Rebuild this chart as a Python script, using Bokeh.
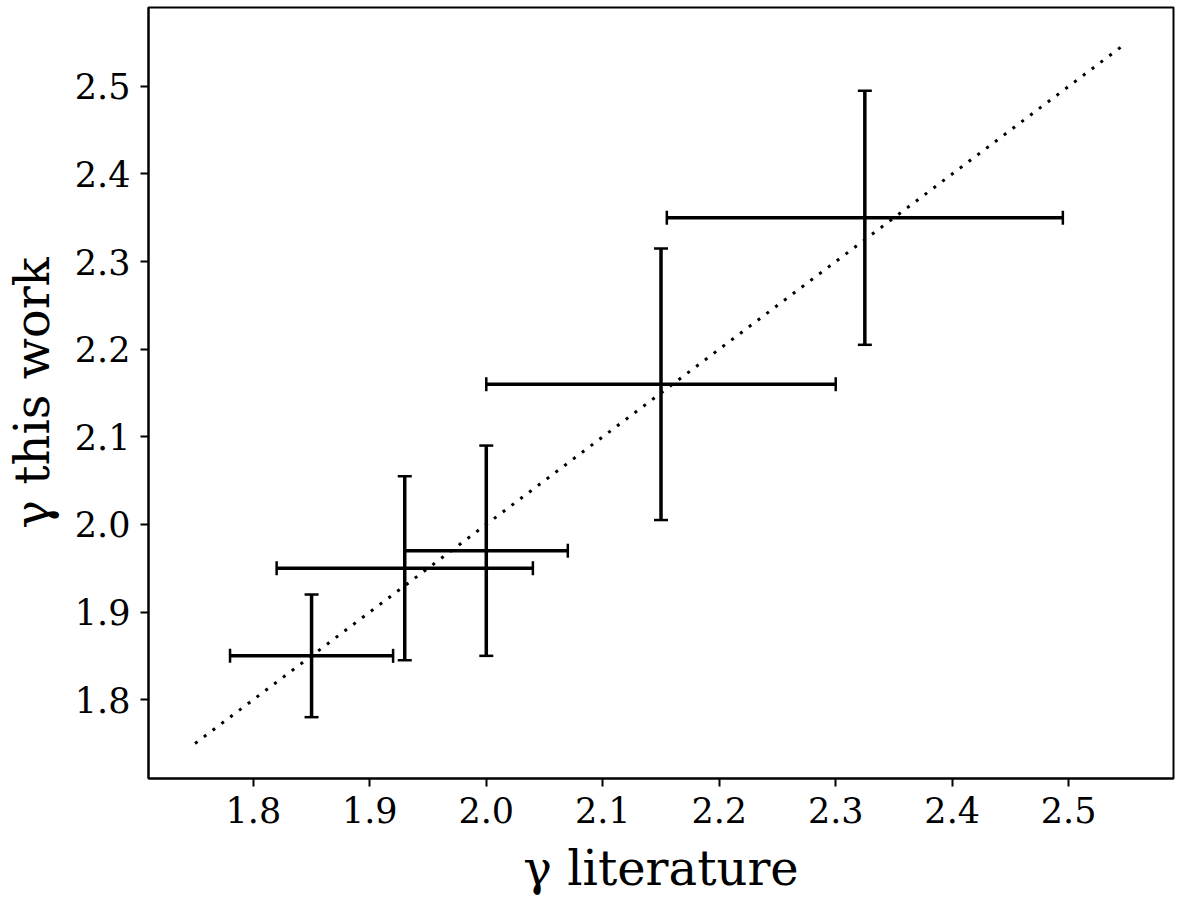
from bokeh.plotting import figure
from bokeh.models import (ColumnDataSource, Whisker, TeeHead, Range1d,
                          FixedTicker, PrintfTickFormatter)
from bokeh.embed import file_html
from bokeh.resources import INLINE

# ---- data ----
gamma_lit = [1.85, 1.93, 2.00, 2.15, 2.325]
gamma_lit_err = [0.07, 0.11, 0.07, 0.15, 0.17]
gamma_this = [1.85, 1.95, 1.97, 2.16, 2.35]
gamma_this_err = [0.07, 0.105, 0.12, 0.155, 0.145]
one_to_one = [1.75, 2.55]
tick_values = [1.8, 1.9, 2.0, 2.1, 2.2, 2.3, 2.4, 2.5]
axis_limits = [1.71, 2.59]

FONT = "DejaVu Serif"

src = ColumnDataSource(dict(
    x=gamma_lit, y=gamma_this,
    xl=[a - b for a, b in zip(gamma_lit, gamma_lit_err)],
    xu=[a + b for a, b in zip(gamma_lit, gamma_lit_err)],
    yl=[a - b for a, b in zip(gamma_this, gamma_this_err)],
    yu=[a + b for a, b in zip(gamma_this, gamma_this_err)],
))

p = figure(output_backend="svg", toolbar_location=None,
           x_range=Range1d(*axis_limits), y_range=Range1d(*axis_limits),
           frame_width=1025, frame_height=771,
           min_border_left=139, min_border_right=20,
           min_border_top=7, min_border_bottom=100)

p.background_fill_color = "white"
p.border_fill_color = "white"
p.outline_line_color = "black"
p.outline_line_width = 2
p.xgrid.visible = False
p.ygrid.visible = False

# 1:1 dotted line
p.line(one_to_one, one_to_one, line_color="black", line_width=3,
       line_dash="3 8")

# error bars
for dim, base, lo, hi in (("width", "y", "xl", "xu"), ("height", "x", "yl", "yu")):
    w = Whisker(source=src, base=base, lower=lo, upper=hi, dimension=dim,
                line_color="black", line_width=3.5,
                lower_head=TeeHead(size=14, line_width=2.5, line_color="black"),
                upper_head=TeeHead(size=14, line_width=2.5, line_color="black"))
    p.add_layout(w)

for ax in (p.xaxis[0], p.yaxis[0]):
    ax.ticker = FixedTicker(ticks=tick_values)
    ax.formatter = PrintfTickFormatter(format="%.1f")
    ax.axis_line_color = "black"
    ax.axis_line_width = 2
    ax.major_tick_line_color = "black"
    ax.major_tick_line_width = 2
    ax.major_tick_out = 8
    ax.major_tick_in = 0
    ax.minor_tick_line_color = None
    ax.major_label_text_font = FONT
    ax.major_label_text_font_size = "35px"
    ax.major_label_text_color = "black"
    ax.major_label_standoff = 10
    ax.axis_label_text_font = FONT
    ax.axis_label_text_font_size = "48px"
    ax.axis_label_text_font_style = "normal"
    ax.axis_label_text_color = "black"

p.xaxis.axis_label = "γ literature"
p.yaxis.axis_label = "γ this work"
p.xaxis.axis_label_standoff = 14
p.yaxis.axis_label_standoff = 12

open("out.html", "w").write(file_html(p, INLINE))
